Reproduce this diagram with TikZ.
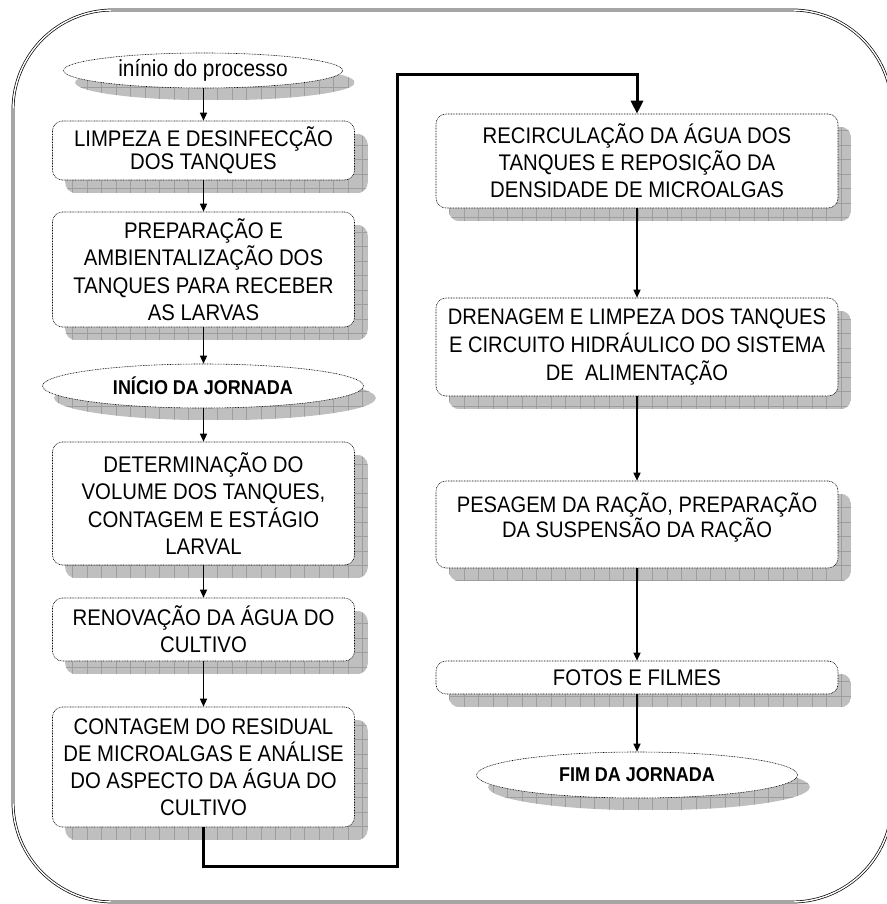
\documentclass[tikz,border=0pt]{standalone}
\usepackage{fontspec}
\setmainfont[FakeStretch=0.9]{Liberation Sans}
\usetikzlibrary{shapes.geometric,arrows.meta,backgrounds,calc}
\tikzset{
  flowbox/.style={draw=black, line width=0.6pt, dash pattern=on 0.8pt off 0.8pt,
    rounded corners=10pt, fill=white, inner sep=0pt, align=center,
    font=\fontsize{22.6pt}{27.5pt}\selectfont},
  leftbox/.style={flowbox, minimum width=302pt},
  rightbox/.style={flowbox, minimum width=402pt},
  boxtext/.style={inner sep=0pt, align=center, font=\fontsize{22.4pt}{25pt}\selectfont},
  flowell/.style={ellipse, draw=black, line width=0.6pt, dash pattern=on 0.8pt off 0.8pt,
    fill=white, inner sep=0pt},
  shadowfill/.style={fill=black!25},
  shadowgrid/.style={draw=black!38, line width=0.6pt, step=14.5pt},
  arr/.style={line width=1.2pt, -{Triangle[length=8pt,width=7pt]}},
  bigarr/.style={line width=3pt, line join=miter, -{Triangle[length=13pt,width=12pt]}},
  frame/.style={draw=black, double=white, double distance=1.4pt, line width=0.7pt, rounded corners=100pt}
}
\newcommand\rshadow[1]{%
  \begin{scope}
    \clip[rounded corners=11pt] ([shift={(13pt,-13pt)}]#1.south west) rectangle ([shift={(13pt,-13pt)}]#1.north east);
    \fill[shadowfill] ([shift={(13pt,-13pt)}]#1.south west) rectangle ([shift={(13pt,-13pt)}]#1.north east);
    \draw[shadowgrid] ([shift={(13pt,-13pt)}]#1.south west) grid ([shift={(13pt,-13pt)}]#1.north east);
  \end{scope}}
\newcommand\eshadow[1]{%
  \begin{scope}
    \path[clip] let \p0=(#1.center), \p1=(#1.east), \p2=(#1.north) in
      (\x0+12pt,\y0-12pt) ellipse [x radius=\x1-\x0, y radius=\y2-\y0];
    \fill[shadowfill] ([shift={(12pt,-12pt)}]#1.west |- #1.south) rectangle ([shift={(12pt,-12pt)}]#1.east |- #1.north);
    \draw[shadowgrid] ([shift={(12pt,-12pt)}]#1.west |- #1.south) grid ([shift={(12pt,-12pt)}]#1.east |- #1.north);
  \end{scope}}
\begin{document}
\begin{tikzpicture}[x=1pt,y=-1pt]
\useasboundingbox (0,0) rectangle (886,904);
\draw[frame] (13,10) rectangle (892,902);

% left column
\node[flowell, minimum width=279pt, minimum height=35pt, font=\fontsize{23.2pt}{24pt}\selectfont] (e1) at (203,70.5) {inínio do processo};
\node[leftbox, minimum height=59pt, font=\fontsize{22.6pt}{23pt}\selectfont] (b1) at (203.5,150.5) {LIMPEZA E DESINFECÇÃO\\DOS TANQUES};
\node[leftbox, minimum height=115pt] (b2) at (203.5,269.5) {PREPARAÇÃO E\\AMBIENTALIZAÇÃO DOS\\TANQUES PARA RECEBER\\AS LARVAS};
\node[flowell, minimum width=321pt, minimum height=44pt, font=\bfseries\fontsize{20pt}{22pt}\selectfont] (e2) at (203,386) {INÍCIO DA JORNADA};
\node[leftbox, minimum height=123pt] (b3) at (203.5,503.5) {DETERMINAÇÃO DO\\VOLUME DOS TANQUES,\\CONTAGEM E ESTÁGIO\\LARVAL};
\node[leftbox, minimum height=63pt, font=\fontsize{22.6pt}{27pt}\selectfont] (b4) at (203.5,629.5) {RENOVAÇÃO DA ÁGUA DO\\CULTIVO};
\node[leftbox, minimum height=120pt, font=\fontsize{22.6pt}{27pt}\selectfont] (b5) at (203.5,767) {CONTAGEM DO RESIDUAL\\DE MICROALGAS E ANÁLISE\\DO ASPECTO DA ÁGUA DO\\CULTIVO};

% right column
\node[rightbox, minimum height=94pt, font=\fontsize{22.6pt}{27pt}\selectfont] (b6) at (637,161) {RECIRCULAÇÃO DA ÁGUA DOS\\TANQUES E REPOSIÇÃO DA\\DENSIDADE DE MICROALGAS};
\node[rightbox, minimum height=98pt, font=\fontsize{22.4pt}{28pt}\selectfont] (b7) at (637,347) {DRENAGEM E LIMPEZA DOS TANQUES\\E CIRCUITO HIDRÁULICO DO SISTEMA\\DE\ \ ALIMENTAÇÃO};
\node[rightbox, minimum height=87pt] (b8) at (637,524.5) {};
\node[boxtext] (t8) at (637,518) {PESAGEM DA RAÇÃO, PREPARAÇÃO\\DA SUSPENSÃO DA RAÇÃO};
\node[rightbox, minimum height=33pt] (b9) at (637,677.5) {FOTOS E FILMES};
\node[flowell, minimum width=321pt, minimum height=46pt, font=\bfseries\fontsize{20pt}{22pt}\selectfont] (e3) at (637,775) {FIM DA JORNADA};

% shadows
\begin{scope}[on background layer]
  \eshadow{e1}
  \rshadow{b1}
  \rshadow{b2}
  \eshadow{e2}
  \rshadow{b3}
  \rshadow{b4}
  \rshadow{b5}
  \rshadow{b6}
  \rshadow{b7}
  \rshadow{b8}
  \rshadow{b9}
  \eshadow{e3}
\end{scope}

% connectors
\coordinate (k1) at (397,866);
\coordinate (k2) at (397,75);
\draw[arr] (e1.south -| b1.north) -- (b1.north);
\draw[arr] (b1) -- (b2);
\draw[arr] (b2.south) -- (b2.south |- e2.north);
\draw[arr] (b2.south |- e2.south) -- (b3.north);
\draw[arr] (b3) -- (b4);
\draw[arr] (b4) -- (b5);
\draw[bigarr] (b5.south) |- (k1) -- (k2) -| (b6.north);
\draw[arr] (b6) -- (b7);
\draw[arr] (b7) -- (b8);
\draw[arr] (b8) -- (b9);
\draw[arr] (b9.south) -- (b9.south |- e3.north);
\end{tikzpicture}
\end{document}
